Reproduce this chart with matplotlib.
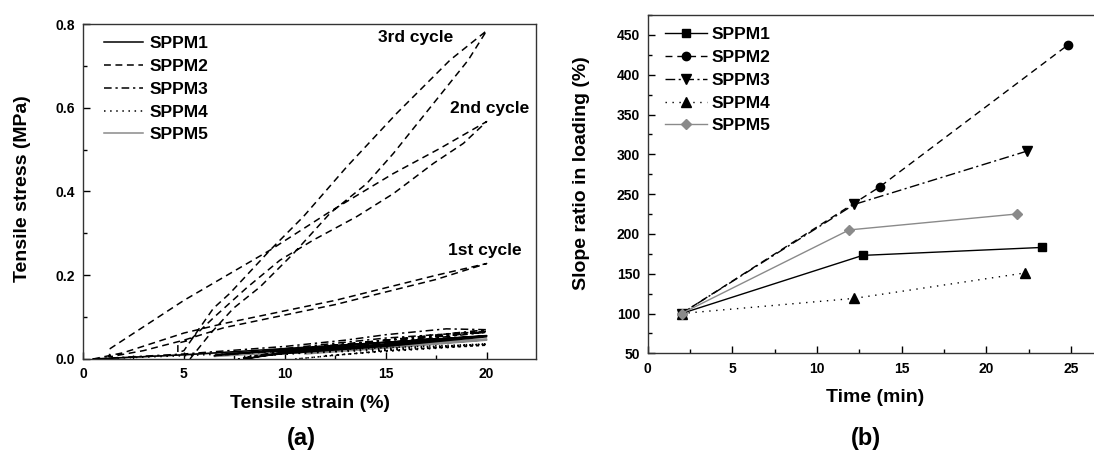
import matplotlib
matplotlib.use("Agg")
import matplotlib.pyplot as plt
from matplotlib.ticker import MultipleLocator

plt.rcParams["font.family"] = ["Liberation Sans", "DejaVu Sans"]
plt.rcParams["font.weight"] = "bold"

GRAY = "#8a8a8a"
NAMES = ["SPPM1", "SPPM2", "SPPM3", "SPPM4", "SPPM5"]

# ---------- (a) tensile hysteresis loops, 3 cycles each (strain %, stress MPa) ----------
s1_x = [0.5, 5, 10, 15, 20, 15, 10, 7, 6.5, 10, 15, 20, 15, 10, 8, 10, 15, 20, 15, 10, 9]
s1_y = [0.0, 0.010, 0.025, 0.040, 0.056, 0.035, 0.020, 0.012, 0.008, 0.022, 0.040, 0.055,
        0.033, 0.017, 0.0, 0.015, 0.035, 0.053, 0.030, 0.013, 0.008]

s2_x = [0.5, 2, 5, 7, 10, 12.5, 15, 17.5, 20,
        17.5, 15, 12.5, 10, 7, 5, 3, 1.3,
        1.35, 5, 9.27, 12.24, 15.38, 17.69, 20,
        18.85, 17.36, 15.38, 13.56, 11.41, 9.76, 8.11, 6.5, 5.3, 4.7,
        4.7, 5.0, 6.46, 7.28, 9.27, 10.92, 13.07, 15.55, 18.19, 20,
        19.09, 17.36, 15.38, 14.06, 12.24, 10.43, 8.77, 7.45, 6.3, 5.3]
s2_y = [0.0, 0.015, 0.062, 0.085, 0.115, 0.140, 0.170, 0.200, 0.228,
        0.190, 0.160, 0.130, 0.105, 0.075, 0.045, 0.020, 0.005,
        0.025, 0.140, 0.260, 0.352, 0.443, 0.503, 0.567,
        0.515, 0.467, 0.395, 0.340, 0.284, 0.236, 0.170, 0.100, 0.045, 0.038,
        0.015, 0.020, 0.121, 0.157, 0.260, 0.340, 0.459, 0.587, 0.714, 0.784,
        0.714, 0.610, 0.491, 0.419, 0.348, 0.252, 0.172, 0.121, 0.060, 0.0]

s3_x = [0.5, 5, 10, 13, 15, 18, 20, 15, 10, 7, 10, 15, 20, 15, 10, 7.7, 10, 15, 20, 15, 10, 9.5]
s3_y = [0.0, 0.012, 0.030, 0.045, 0.058, 0.072, 0.070, 0.045, 0.022, 0.010, 0.025, 0.050,
        0.066, 0.040, 0.018, 0.0, 0.020, 0.045, 0.064, 0.037, 0.015, 0.010]

s4_x = [0.5, 5, 10, 15, 20, 15, 10, 8, 12, 16, 20, 15, 10.5, 15, 20, 15, 12]
s4_y = [0.0, 0.008, 0.018, 0.027, 0.036, 0.022, 0.012, 0.006, 0.018, 0.028, 0.035,
        0.020, 0.0, 0.020, 0.033, 0.018, 0.008]

s5_x = [0.5, 5, 10, 15, 20, 15, 10, 6.5, 10, 15, 20, 15, 10, 8.5, 12, 16, 20, 15, 11]
s5_y = [0.0, 0.010, 0.022, 0.035, 0.048, 0.030, 0.016, 0.006, 0.020, 0.034, 0.046,
        0.028, 0.013, 0.008, 0.020, 0.034, 0.045, 0.026, 0.012]

cycle_labels = ["3rd cycle", "2nd cycle", "1st cycle"]
cycle_x = [14.62, 18.19, 18.09]
cycle_y = [0.767, 0.599, 0.260]

# ---------- (b) slope ratio in loading ----------
t1 = [2.0, 12.7, 23.3];  r1 = [100, 173, 183]
t2 = [2.0, 13.7, 24.8];  r2 = [100, 259, 437]
t3 = [2.0, 12.2, 22.4];  r3 = [100, 237, 304]
t4 = [2.0, 12.2, 22.3];  r4 = [100, 119, 151]
t5 = [2.0, 11.9, 21.8];  r5 = [100, 205, 225]

W, H = 1094, 450
fig = plt.figure(figsize=(W / 100, H / 100), dpi=100)
axa = fig.add_axes([83 / W, 1 - 359 / H, 453.3 / W, 335 / H])
axb = fig.add_axes([647.7 / W, 1 - 353.3 / H, 457.1 / W, 338.3 / H])

# line styles: (a) panel / (b) panel
styles_a = [
    dict(color="black", ls="-"),
    dict(color="black", dashes=(4.5, 3)),
    dict(color="black", dashes=(5, 2.5, 1.5, 2.5)),
    dict(color="black", dashes=(1, 3)),
    dict(color=GRAY, ls="-"),
]
styles_b = [
    dict(color="black", ls="-"),
    dict(color="black", dashes=(5, 3.5)),
    dict(color="black", dashes=(7, 2.5, 1.5, 2.5)),
    dict(color="black", dashes=(1, 4)),
    dict(color=GRAY, ls="-"),
]
zorders = [3, 3, 3, 3, 2]

for (xs, ys), name, st, zo in zip([(s1_x, s1_y), (s2_x, s2_y), (s3_x, s3_y), (s4_x, s4_y), (s5_x, s5_y)],
                                  NAMES, styles_a, zorders):
    axa.plot(xs, ys, lw=1.1, label=name, zorder=zo, **st)

for txt, x, y in zip(cycle_labels, cycle_x, cycle_y):
    axa.text(x, y, txt, fontsize=12.5, fontweight="bold", va="center", ha="left", clip_on=False)

axa.set_xlim(0, 22.46)
axa.set_ylim(0, 0.8)
axa.xaxis.set_major_locator(MultipleLocator(5))
axa.xaxis.set_minor_locator(MultipleLocator(2.5))
axa.yaxis.set_major_locator(MultipleLocator(0.2))
axa.yaxis.set_minor_locator(MultipleLocator(0.1))
axa.yaxis.set_major_formatter(plt.FormatStrFormatter("%.1f"))
axa.legend(loc="upper left", bbox_to_anchor=(0.046, 0.964), frameon=False, fontsize=12.5,
           handlelength=2.25, handletextpad=0.38, labelspacing=0.44, borderpad=0, borderaxespad=0)

markers = ["s", "o", "v", "^", "D"]
msizes = [5.5, 6, 6.5, 6.5, 5.5]
for (xs, ys), name, st, mk, ms in zip([(t1, r1), (t2, r2), (t3, r3), (t4, r4), (t5, r5)],
                                      NAMES, styles_b, markers, msizes):
    axb.plot(xs, ys, lw=1.0, marker=mk, ms=ms, mfc=st["color"], mec=st["color"], label=name, **st)

axb.set_xlim(0, 27)
axb.set_ylim(50, 475)
axb.xaxis.set_major_locator(MultipleLocator(5))
axb.xaxis.set_minor_locator(MultipleLocator(2.5))
axb.yaxis.set_major_locator(MultipleLocator(50))
axb.yaxis.set_minor_locator(MultipleLocator(25))
axb.legend(loc="upper left", bbox_to_anchor=(0.038, 0.964), frameon=False, fontsize=12.5,
           handlelength=2.4, handletextpad=0.29, labelspacing=0.44, borderpad=0, borderaxespad=0)

for ax in (axa, axb):
    ax.tick_params(which="both", direction="in", top=False, right=False, labelsize=10, width=1)
    ax.tick_params(which="major", length=5)
    ax.tick_params(which="minor", length=3)
    ax.tick_params(axis="x", pad=6)
    ax.tick_params(axis="y", pad=5.5)
    for sp in ax.spines.values():
        sp.set_linewidth(1.0)
        sp.set_color("#333333")
    for lab in ax.get_xticklabels() + ax.get_yticklabels():
        lab.set_fontweight("bold")

fig.text(310.5 / W, 1 - 403 / H, "Tensile strain (%)", fontsize=14, fontweight="bold", ha="center", va="center")
fig.text(22.7 / W, 1 - 188.5 / H, "Tensile stress (MPa)", fontsize=14, fontweight="bold",
         ha="center", va="center", rotation=90)
fig.text(301 / W, 1 - 439 / H, "(a)", fontsize=17, fontweight="bold", ha="center", va="center")
fig.text(875 / W, 1 - 397 / H, "Time (min)", fontsize=14, fontweight="bold", ha="center", va="center")
fig.text(581 / W, 1 - 173.5 / H, "Slope ratio in loading (%)", fontsize=14, fontweight="bold",
         ha="center", va="center", rotation=90)
fig.text(866 / W, 1 - 438.5 / H, "(b)", fontsize=17, fontweight="bold", ha="center", va="center")

fig.savefig("out.png", dpi=100)
